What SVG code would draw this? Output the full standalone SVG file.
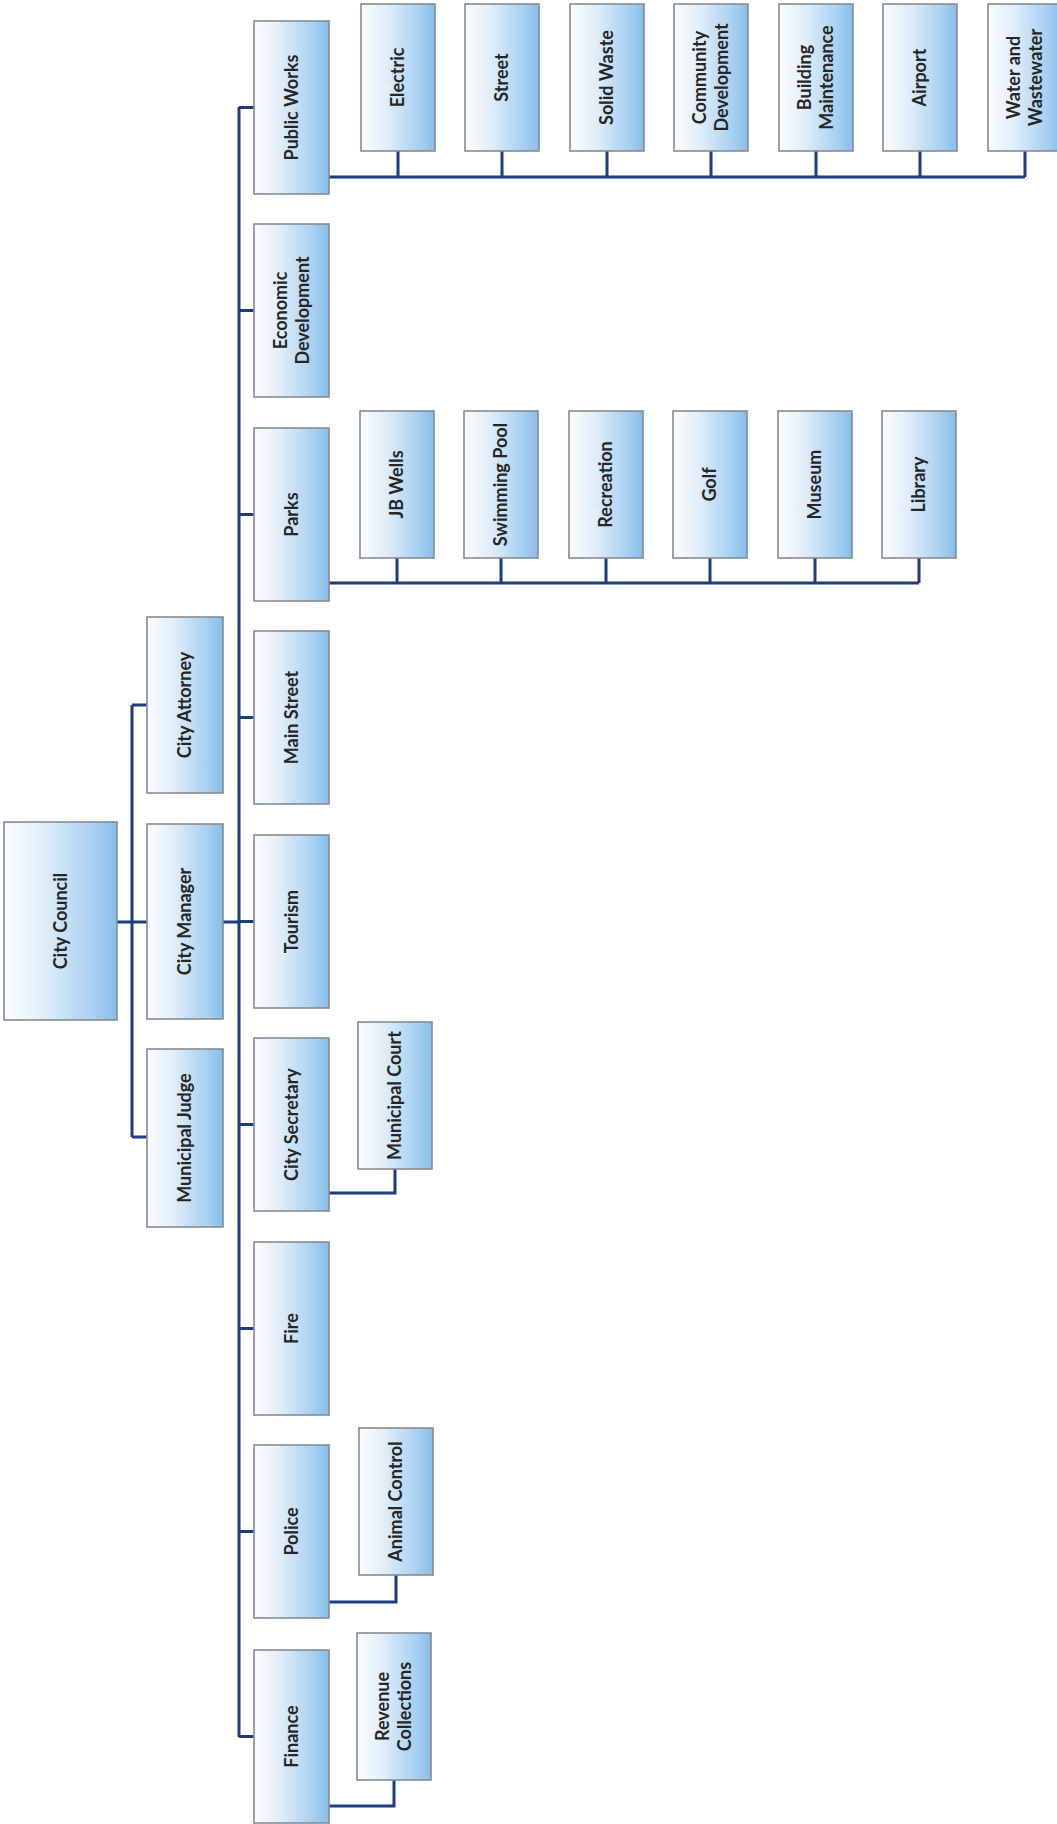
<svg xmlns="http://www.w3.org/2000/svg" width="1057" height="1824" viewBox="0 0 1057 1824">
<defs>
<linearGradient id="g" x1="0" y1="0" x2="1" y2="0">
<stop offset="0" stop-color="#fbfdff"/>
<stop offset="0.35" stop-color="#e0eefa"/>
<stop offset="0.8" stop-color="#a6cff0"/>
<stop offset="1" stop-color="#88bde8"/>
</linearGradient>
<style>
.b{fill:url(#g);stroke:#878b90;stroke-width:1.6}
.t{font-family:Lato,"Open Sans","Liberation Sans",sans-serif;font-size:18px;font-weight:bold;fill:#262626;text-anchor:middle}
.c{fill:none;stroke:#1f3c7c;stroke-width:3}
</style>
</defs>
<rect width="1057" height="1824" fill="#ffffff"/>
<g id="connectors">
<path class="c" d="M117 922H147M132 705V1137M132 705H147M132 1137H147M223 922H239"/>
<path class="c" d="M239 107V1737M239 107.5H254M239 310.5H254M239 514.5H254M239 717.5H254M239 921.5H254M239 1124.5H254M239 1328.5H254M239 1531.5H254M239 1736.5H254"/>
<path class="c" d="M329 177H1025M398 151V177M502 151V177M607 151V177M711 151V177M816 151V177M920 151V177M1025 151V177"/>
<path class="c" d="M329 583H919M397 558V583M501 558V583M606 558V583M710 558V583M815 558V583M919 558V583"/>
<path class="c" d="M329 1193H395V1169M329 1602H396V1575M329 1806H394V1780"/>
</g>
<g id="city-council"><rect class="b" x="4" y="822" width="113" height="198"/><text class="t" transform="translate(60.5 921) rotate(-90)" y="6.3">City Council</text></g>
<g id="city-attorney"><rect class="b" x="147" y="617" width="76" height="176"/><text class="t" transform="translate(185 705) rotate(-90)" y="6.3">City Attorney</text></g>
<g id="city-manager"><rect class="b" x="147" y="824" width="76" height="195"/><text class="t" transform="translate(185 921.5) rotate(-90)" y="6.3">City Manager</text></g>
<g id="municipal-judge"><rect class="b" x="147" y="1049" width="76" height="178"/><text class="t" transform="translate(185 1138) rotate(-90)" y="6.3">Municipal Judge</text></g>
<g id="public-works"><rect class="b" x="254" y="21" width="75" height="173"/><text class="t" transform="translate(291.5 107.5) rotate(-90)" y="6.3">Public Works</text></g>
<g id="economic-development"><rect class="b" x="254" y="224" width="75" height="173"/><text class="t" transform="translate(291.5 310.5) rotate(-90)"><tspan x="0" y="-4.7">Economic</tspan><tspan x="0" y="17.3">Development</tspan></text></g>
<g id="parks"><rect class="b" x="254" y="428" width="75" height="173"/><text class="t" transform="translate(291.5 514.5) rotate(-90)" y="6.3">Parks</text></g>
<g id="main-street"><rect class="b" x="254" y="631" width="75" height="173"/><text class="t" transform="translate(291.5 717.5) rotate(-90)" y="6.3">Main Street</text></g>
<g id="tourism"><rect class="b" x="254" y="835" width="75" height="173"/><text class="t" transform="translate(291.5 921.5) rotate(-90)" y="6.3">Tourism</text></g>
<g id="city-secretary"><rect class="b" x="254" y="1038" width="75" height="173"/><text class="t" transform="translate(291.5 1124.5) rotate(-90)" y="6.3">City Secretary</text></g>
<g id="fire"><rect class="b" x="254" y="1242" width="75" height="173"/><text class="t" transform="translate(291.5 1328.5) rotate(-90)" y="6.3">Fire</text></g>
<g id="police"><rect class="b" x="254" y="1445" width="75" height="173"/><text class="t" transform="translate(291.5 1531.5) rotate(-90)" y="6.3">Police</text></g>
<g id="finance"><rect class="b" x="254" y="1650" width="75" height="173"/><text class="t" transform="translate(291.5 1736.5) rotate(-90)" y="6.3">Finance</text></g>
<g id="electric"><rect class="b" x="361" y="4" width="74" height="147"/><text class="t" transform="translate(398 77.5) rotate(-90)" y="6.3">Electric</text></g>
<g id="street"><rect class="b" x="465" y="4" width="74" height="147"/><text class="t" transform="translate(502 77.5) rotate(-90)" y="6.3">Street</text></g>
<g id="solid-waste"><rect class="b" x="570" y="4" width="74" height="147"/><text class="t" transform="translate(607 77.5) rotate(-90)" y="6.3">Solid Waste</text></g>
<g id="community-development"><rect class="b" x="674" y="4" width="74" height="147"/><text class="t" transform="translate(711 77.5) rotate(-90)"><tspan x="0" y="-4.7">Community</tspan><tspan x="0" y="17.3">Development</tspan></text></g>
<g id="building-maintenance"><rect class="b" x="779" y="4" width="74" height="147"/><text class="t" transform="translate(816 77.5) rotate(-90)"><tspan x="0" y="-4.7">Building</tspan><tspan x="0" y="17.3">Maintenance</tspan></text></g>
<g id="airport"><rect class="b" x="883" y="4" width="74" height="147"/><text class="t" transform="translate(920 77.5) rotate(-90)" y="6.3">Airport</text></g>
<g id="water-wastewater"><rect class="b" x="988" y="4" width="74" height="147"/><text class="t" transform="translate(1025 77.5) rotate(-90)"><tspan x="0" y="-4.7">Water and</tspan><tspan x="0" y="17.3">Wastewater</tspan></text></g>
<g id="jb-wells"><rect class="b" x="360" y="411" width="74" height="147"/><text class="t" transform="translate(397 484.5) rotate(-90)" y="6.3">JB Wells</text></g>
<g id="swimming-pool"><rect class="b" x="464" y="411" width="74" height="147"/><text class="t" transform="translate(501 484.5) rotate(-90)" y="6.3">Swimming Pool</text></g>
<g id="recreation"><rect class="b" x="569" y="411" width="74" height="147"/><text class="t" transform="translate(606 484.5) rotate(-90)" y="6.3">Recreation</text></g>
<g id="golf"><rect class="b" x="673" y="411" width="74" height="147"/><text class="t" transform="translate(710 484.5) rotate(-90)" y="6.3">Golf</text></g>
<g id="museum"><rect class="b" x="778" y="411" width="74" height="147"/><text class="t" transform="translate(815 484.5) rotate(-90)" y="6.3">Museum</text></g>
<g id="library"><rect class="b" x="882" y="411" width="74" height="147"/><text class="t" transform="translate(919 484.5) rotate(-90)" y="6.3">Library</text></g>
<g id="municipal-court"><rect class="b" x="358" y="1022" width="74" height="147"/><text class="t" transform="translate(395 1095.5) rotate(-90)" y="6.3">Municipal Court</text></g>
<g id="animal-control"><rect class="b" x="359" y="1428" width="74" height="147"/><text class="t" transform="translate(396 1501.5) rotate(-90)" y="6.3">Animal Control</text></g>
<g id="revenue-collections"><rect class="b" x="357" y="1633" width="74" height="147"/><text class="t" transform="translate(394 1706.5) rotate(-90)"><tspan x="0" y="-4.7">Revenue</tspan><tspan x="0" y="17.3">Collections</tspan></text></g>
<text class="t" x="562" y="1835" style="font-size:16px;font-weight:normal">9</text>
</svg>
